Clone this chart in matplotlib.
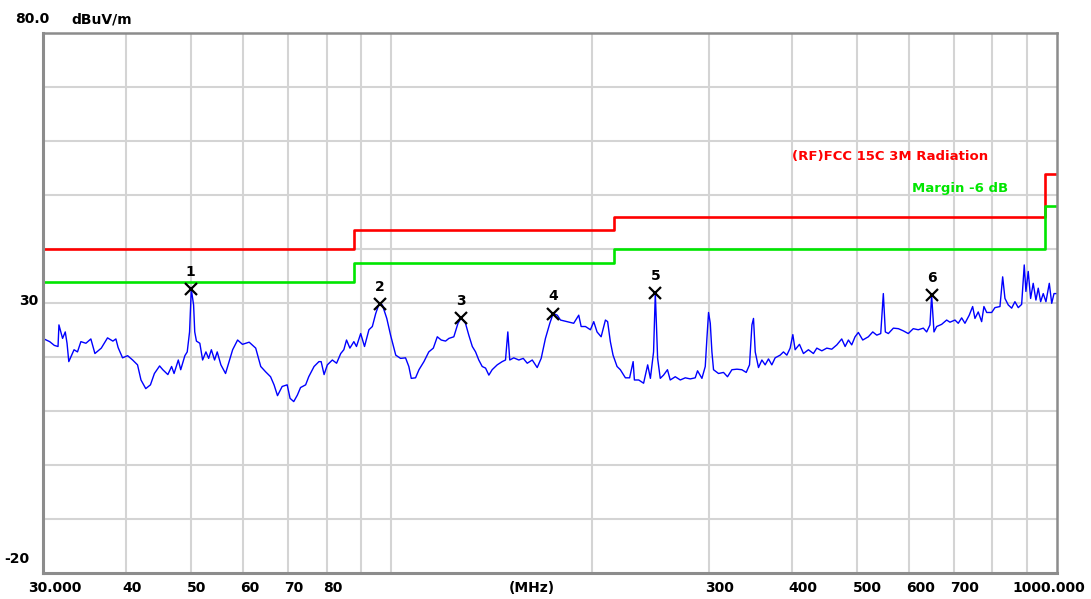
import matplotlib
matplotlib.use('Agg')
import matplotlib.pyplot as plt
import matplotlib.transforms as mtransforms
from matplotlib.ticker import NullLocator

# measured trace (MHz, dBuV/m)
freq = [30.1, 30.7, 31.2, 31.6, 31.7, 32.1, 32.4, 32.6, 32.8, 33.4, 33.8, 34.2, 34.8, 35.4, 35.9,
        36.7, 37.5, 38.2, 38.6, 38.9, 39.5, 40.2, 40.9, 41.6, 42.1, 42.8, 43.5, 44.1, 44.9, 45.4,
        46.2, 46.8, 47.2, 47.9, 48.3, 49.0, 49.4, 49.8, 50.1, 50.5, 50.7, 51.0, 51.6, 52.1, 52.7,
        53.2, 53.7, 54.3, 54.8, 55.5, 56.4, 57.1, 57.8, 58.8, 59.8, 61.2, 62.6, 63.7, 64.8, 65.9,
        66.7, 67.5, 68.6, 69.8, 70.5, 71.4, 72.3, 73.1, 74.4, 75.2, 76.6, 77.9, 78.5, 79.3, 80.2,
        81.6, 82.8, 84.0, 84.9, 85.7, 86.7, 87.9, 88.7, 90.0, 91.2, 92.6, 93.7, 94.8, 95.9, 97.0,
        98.5, 99.8, 101.6, 103.3, 105.1, 106.3, 107.2, 108.8, 110.1, 112.0, 113.9, 115.7, 117.3,
        118.9, 120.7, 122.1, 124.2, 126.0, 127.4, 129.3, 130.8, 132.4, 133.9, 135.4, 137.0, 138.6,
        140.2, 141.8, 144.3, 146.8, 148.5, 149.7, 150.7, 152.8, 155.5, 157.9, 160.1, 162.9, 165.7,
        168.0, 170.5, 173.1, 175.1, 177.6, 179.6, 183.8, 188.0, 191.3, 192.9, 195.8, 199.2, 201.5,
        203.8, 206.7, 209.8, 211.4, 213.4, 215.4, 218.4, 220.9, 224.8, 228.1, 230.9, 231.9, 235.4,
        239.4, 242.8, 245.1, 247.8, 249.3, 251.3, 253.6, 256.5, 260.0, 262.5, 267.1, 271.8, 276.5,
        281.3, 286.2, 288.5, 292.9, 296.3, 298.0, 299.7, 301.5, 303.2, 304.9, 310.2, 315.6, 320.0,
        324.9, 330.6, 336.3, 341.4, 345.3, 348.2, 350.1, 352.2, 356.2, 360.4, 364.5, 368.7, 373.0,
        377.3, 383.9, 388.3, 392.9, 397.4, 401.1, 404.3, 410.4, 416.1, 423.3, 430.7, 435.8, 443.4,
        451.1, 458.9, 467.0, 475.0, 480.6, 486.1, 491.7, 497.4, 503.1, 510.8, 520.8, 528.8, 536.2,
        543.6, 548.5, 552.3, 558.1, 567.9, 577.8, 587.7, 597.9, 608.3, 618.9, 629.8, 637.2, 644.5,
        648.2, 653.5, 659.6, 671.0, 682.8, 690.6, 702.7, 710.7, 719.1, 727.4, 738.2, 747.0, 753.0,
        761.6, 770.6, 776.7, 784.2, 797.8, 806.9, 821.0, 828.7, 835.3, 844.9, 854.9, 864.6, 874.6,
        884.9, 892.9, 898.1, 905.3, 912.8, 921.0, 929.7, 937.2, 945.0, 953.5, 962.5, 973.7, 981.9,
        989.7, 999.0]
level = [23.4, 22.9, 22.2, 22.0, 26.0, 23.5, 24.7, 22.6, 19.2, 21.4, 21.0, 22.9, 22.6, 23.4, 20.7,
         21.7, 23.6, 23.0, 23.4, 21.8, 19.9, 20.3, 19.5, 18.6, 15.8, 14.2, 14.9, 17.0, 18.4, 17.7,
         16.8, 18.3, 17.0, 19.5, 17.7, 20.3, 21.0, 24.7, 32.6, 29.7, 24.7, 23.0, 22.6, 19.5, 21.0,
         19.8, 21.4, 19.5, 21.0, 18.6, 17.0, 19.2, 21.4, 23.2, 22.4, 22.8, 21.7, 18.3, 17.3, 16.4,
         14.9, 12.9, 14.6, 14.9, 12.4, 11.8, 13.0, 14.4, 14.9, 16.4, 18.3, 19.2, 19.2, 16.8, 18.6,
         19.5, 18.9, 20.7, 21.4, 23.2, 21.7, 22.9, 22.0, 24.4, 22.0, 25.1, 25.7, 28.1, 29.9, 29.7,
         27.2, 24.1, 20.4, 19.8, 19.9, 18.3, 16.1, 16.2, 17.7, 19.2, 21.0, 21.7, 23.8,
         23.2, 23.0, 23.5, 23.8, 26.3, 27.3, 26.3, 24.1, 22.0, 21.0, 19.5, 18.3, 18.0,
         16.7, 17.7, 18.6, 19.2, 19.5, 24.7, 19.5, 19.9, 19.5, 19.8, 18.9, 19.5, 18.1,
         19.8, 23.5, 26.3, 28.1, 27.8, 26.9, 26.6, 26.3, 27.8, 25.7, 25.7, 25.1, 26.6,
         24.7, 23.8, 26.9, 26.6, 22.9, 20.4, 18.3, 17.7, 16.2, 16.2, 19.2, 15.8, 15.8,
         15.2, 18.6, 16.1, 21.0, 31.9, 19.8, 16.1, 16.7, 17.7, 15.8, 16.4, 15.8, 16.2,
         16.0, 16.2, 17.5, 16.1, 18.3, 23.5, 28.3, 26.3, 21.0, 17.7, 17.0, 17.2, 16.4,
         17.7, 17.8, 17.7, 17.2, 18.6, 26.0, 27.2, 21.0, 18.1, 19.5, 18.6, 19.7, 18.6,
         19.9, 20.4, 21.0, 20.4, 21.7, 24.2, 21.4, 22.4, 20.7, 21.4, 20.7, 21.7, 21.2,
         21.7, 21.5, 22.3, 23.4, 22.0, 23.2, 22.3, 23.8, 24.6, 23.2, 23.8, 24.7, 24.1,
         24.4, 31.8, 24.7, 24.4, 25.4, 25.3, 24.9, 24.4, 25.3, 25.1, 25.4, 24.7, 26.0,
         31.5, 24.7, 25.7, 26.1, 26.9, 26.5, 26.9, 26.3, 27.3, 26.3, 27.8, 29.4, 27.2,
         28.4, 26.6, 29.4, 28.3, 28.3, 29.2, 29.4, 34.9, 30.9, 29.7, 29.1, 30.3, 29.2,
         29.8, 37.1, 32.2, 35.9, 30.9, 33.7, 30.6, 32.8, 30.3, 31.8, 30.3, 33.7, 30.0,
         31.8, 31.8]

# FCC 15C 3m limit and margin
limit_freq = [30, 88, 216, 960, 1000]
limit_level = [40, 43.5, 46, 54, 54]
margin_db = 6

# peak markers
mk_freq = [50.0, 96.1, 127.4, 175.1, 249.3, 648.2]
mk_level = [32.6, 29.9, 27.3, 28.1, 31.9, 31.5]
mk_names = ['1', '2', '3', '4', '5', '6']

grid_freq = [40, 50, 60, 70, 80, 90, 100, 200, 300, 400, 500, 600, 700, 800, 900]
grid_level = [-10, 0, 10, 20, 30, 40, 50, 60, 70]
tick_freq = [40, 50, 60, 70, 80, 300, 400, 500, 600, 700]

W, H = 1091, 599
fig = plt.figure(figsize=(W / 100, H / 100), dpi=100)
ax = fig.add_axes([43 / W, 1 - 573.3 / H, (1057 - 43) / W, (573.3 - 33.3) / H])

ax.set_xscale('log')
ax.set_xlim(30, 1000)
ax.set_ylim(-20, 80)
ax.set_xticks(grid_freq, labels=[''] * len(grid_freq))
ax.xaxis.set_minor_locator(NullLocator())
ax.set_yticks(grid_level, labels=[''] * len(grid_level))
ax.tick_params(length=0)
ax.grid(True, color='#d4d4d4', linewidth=1.5)
ax.set_axisbelow(True)
for side, sp in ax.spines.items():
    sp.set_color('#8c8c8c')
    sp.set_linewidth(2.2 if side in ('left', 'bottom') else 1.8)

ax.step(limit_freq, limit_level, where='post', color='#ff0000', lw=1.9)
ax.step(limit_freq, [v - margin_db for v in limit_level], where='post', color='#00e600', lw=1.9)
ax.plot(freq, level, color='#0000ff', lw=1.0)

ax.plot(mk_freq, mk_level, 'x', color='black', ms=8, mew=1.6)
for f, v, n in zip(mk_freq, mk_level, mk_names):
    ax.annotate(n, (f, v), xytext=(0, 9.5), textcoords='offset points',
                ha='center', va='baseline', fontsize=10, fontweight='bold')

ax.text(0.932, 0.771, '(RF)FCC 15C 3M Radiation', transform=ax.transAxes, color='#ff0000',
        ha='right', va='center', fontsize=9.5, fontweight='bold')
ax.text(0.952, 0.7135, 'Margin -6 dB', transform=ax.transAxes, color='#00e600',
        ha='right', va='center', fontsize=9.5, fontweight='bold')

# axis labels in the style of the receiver software
kw = dict(fontsize=10, fontweight='bold', va='baseline')
fig.text(15 / W, 1 - 23.3 / H, '80.0', ha='left', **kw)
fig.text(71.7 / W, 1 - 23.3 / H, 'dBuV/m', ha='left', **kw)
fig.text(38.3 / W, 1 - 305 / H, '30', ha='right', **kw)
fig.text(29.3 / W, 1 - 563.3 / H, '-20', ha='right', **kw)

xbase = mtransforms.blended_transform_factory(ax.transData, fig.transFigure)
ybase = 1 - 592.3 / H
for f in tick_freq:
    tr = mtransforms.offset_copy(xbase, fig=fig, x=-3.5, y=0, units='dots')
    fig.text(f, ybase, str(f), transform=tr, ha='left', **kw)
tr = mtransforms.offset_copy(xbase, fig=fig, x=-15, y=0, units='dots')
fig.text(30, ybase, '30.000', transform=tr, ha='left', **kw)
tr = mtransforms.offset_copy(xbase, fig=fig, x=28, y=0, units='dots')
fig.text(1000, ybase, '1000.000', transform=tr, ha='right', **kw)
fig.text(531.7 / W, ybase, '(MHz)', ha='center', **kw)

fig.savefig('out.png', dpi=100, facecolor='white')
